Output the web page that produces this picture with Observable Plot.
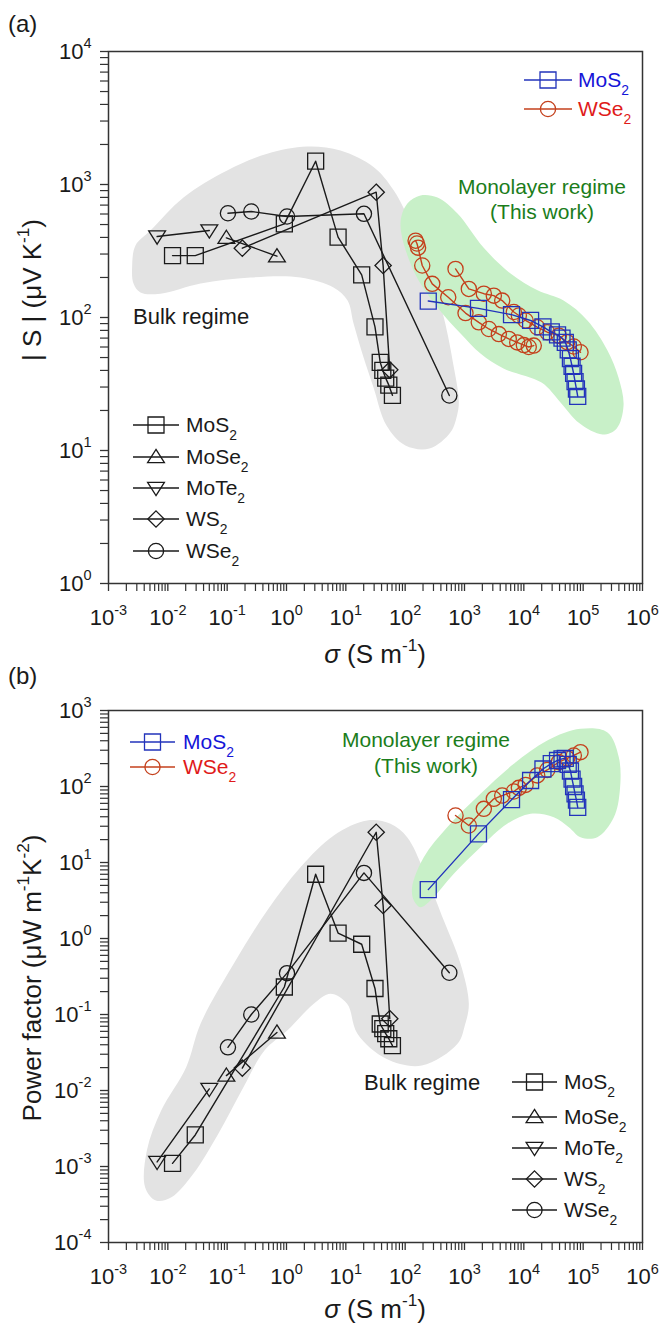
<!DOCTYPE html>
<html><head><meta charset="utf-8">
<script src="https://cdn.jsdelivr.net/npm/d3@7"></script>
<script src="https://cdn.jsdelivr.net/npm/@observablehq/plot@0.6"></script>
<style>
body{margin:0;background:#fff;}
#c svg{display:block;}
text{white-space:pre;}
</style></head><body><div id="c"></div>
<script>
const FONT = "'Liberation Sans', Arial, Helvetica, sans-serif";

// ---------------- data ----------------
const sigmaTicks = [1e-3,1e-2,1e-1,1e0,1e1,1e2,1e3,1e4,1e5,1e6];
const sTicks = [1,10,100,1000,10000];
const pfTicks = [1e-4,1e-3,1e-2,1e-1,1,10,100,1000];
const bulkNames = ["MoS2","MoSe2","MoTe2","WS2","WSe2"];
const monoNames = ["MoS2","WSe2"];

// bulk (literature)
const bulkMoS2_sigma = [0.012, 0.029, 0.92, 3.1, 7.4, 18.5, 31, 38, 42, 47, 53, 61];
const bulkMoS2_S     = [292, 292, 506, 1497, 402, 209, 85, 46, 40, 35, 31, 26];
const bulkMoS2_PF    = [0.0011, 0.0026, 0.23, 7.0, 1.18, 0.84, 0.22, 0.075, 0.065, 0.056, 0.048, 0.039];
const bulkMoSe2_sigma = [0.097, 0.69];
const bulkMoSe2_S     = [397, 289];
const bulkMoSe2_PF    = [0.0157, 0.058];
const bulkMoTe2_sigma = [0.0066, 0.05];
const bulkMoTe2_S     = [406, 451];
const bulkMoTe2_PF    = [0.00115, 0.0105];
const bulkWS2_sigma = [0.18, 32.5, 42.5, 55];
const bulkWS2_S     = [332, 875, 246, 40.4];
const bulkWS2_PF    = [0.0197, 25, 2.72, 0.088];
const bulkWSe2_sigma = [0.103, 0.255, 1.02, 20.2, 555];
const bulkWSe2_S     = [608, 627, 575, 602, 25.9];
const bulkWSe2_PF    = [0.037, 0.1, 0.35, 7.3, 0.354];

// monolayer (this work)
const monoMoS2_sigma = [245, 1720, 6200, 13000, 21000, 29000, 37000, 44000, 50000, 56000, 61000, 65000, 69000, 73000, 77000, 81000];
const monoMoS2_S     = [133, 117, 105, 95, 85, 78, 74, 70, 65, 57, 49, 43, 38, 33, 29, 25.5];
const monoMoS2_PF    = [4.4, 23.8, 67, 120, 170, 200, 220, 231, 235, 195, 160, 125, 100, 80, 66, 53];
const monoWSe2a_sigma = [150, 158, 165, 194, 286, 532, 1040, 1740, 2570, 3790, 5580, 7740, 10000, 12100, 14700];
const monoWSe2a_S     = [378, 360, 335, 246, 179, 142, 108, 92, 82, 75, 69, 65, 62, 60, 61.5];
const monoWSe2b_sigma = [706, 1183, 2118, 3120, 4320, 6780, 8240, 10700, 16800, 24800, 38900, 53800, 69600, 90200];
const monoWSe2b_S     = [232, 164, 151, 146, 134, 110, 103.5, 95, 84.5, 77.5, 73, 65.2, 60.5, 54.8];
const monoWSe2b_PF    = [41.5, 30.7, 50.8, 68.9, 76, 86, 96, 105, 140, 165, 209, 235, 256, 283];

// shaded regime outlines
const bulkRegionA_sigma = [0.0025, 0.00285, 0.0051, 0.0186, 0.1, 0.473, 2.23, 8.13, 29.6, 64.4, 140, 267, 448, 661, 802, 762, 581, 257, 101, 48.5, 29.3, 19.9, 13.5, 10.7, 6.2, 1.72, 0.247, 0.0356, 0.0075, 0.00346, 0.00264];
const bulkRegionA_S     = [239, 348, 451, 803, 1275, 1702, 1930, 1800, 1350, 901, 451, 213, 100, 42.3, 23.8, 19, 13.7, 10.35, 10.9, 15.4, 29.8, 50, 90, 134, 168, 200, 200, 180, 151, 154, 180];
const monoRegionA_sigma = [83.4, 109, 181, 351, 762, 2090, 5970, 17000, 46700, 118000, 257000, 394000, 479000, 365000, 212000, 86700, 41500, 19900, 4540, 1860, 857, 351, 138];
const monoRegionA_S     = [509, 720, 827, 798, 605, 336, 214, 160, 134, 95, 56.5, 35.4, 21.8, 14.6, 13.2, 16.0, 23, 32.4, 41.4, 53.6, 75.9, 119, 226];
const bulkRegionB_sigma = [0.00629, 0.00414, 0.00444, 0.00773, 0.0204, 0.0356, 0.129, 0.473, 1.72, 6.27, 22.9, 56.6, 108, 206, 448, 857, 1183, 1012, 762, 191, 47.9, 15.7, 10.5, 5.52, 2.88, 1.03, 0.425, 0.188, 0.0714, 0.0271, 0.0115];
const bulkRegionB_PF    = [3.57e-4, 5.35e-4, 1.63e-3, 5.46e-3, 0.0203, 0.0755, 0.464, 2.34, 8.67, 22.7, 35.7, 32.3, 21.5, 7.85, 1.72, 0.464, 0.138, 0.0716, 0.0411, 0.0213, 0.0261, 0.0557, 0.138, 0.187, 0.138, 0.0615, 0.0336, 0.011, 2.72e-3, 8.09e-4, 3.94e-4];
const monoRegionB_sigma = [140, 131, 206, 511, 1860, 6780, 24800, 90200, 254000, 399000, 415000, 329000, 173000, 90200, 57300, 32000, 13000, 5250, 1860, 661, 267, 181];
const monoRegionB_PF    = [3.16, 4.73, 11.7, 29.1, 80.2, 199, 403, 574, 518, 243, 88.6, 39.4, 21.5, 21.5, 29.1, 39.4, 43.7, 32.3, 15.9, 7.1, 3.16, 2.58];

// ---------------- helpers ----------------
const rows = (sig, val) => sig.map((s, i) => ({sigma: s, v: val[i]}));
const minorOf = (majors) => majors.slice(0, -1).flatMap(m => [2,3,4,5,6,7,8,9].map(k => k * m));

const rOf = size => Math.sqrt(size / Math.PI);
const symSquare = {draw(c, s){ const r = rOf(s); c.moveTo(-r,-r); c.lineTo(r,-r); c.lineTo(r,r); c.lineTo(-r,r); c.closePath(); }};
const symCircle = {draw(c, s){ const r = rOf(s) * 0.95; c.moveTo(r,0); c.arc(0,0,r,0,2*Math.PI); c.closePath(); }};
const symTriUp = {draw(c, s){ const r = rOf(s); c.moveTo(0,-r*0.95); c.lineTo(r*1.05,r*0.7); c.lineTo(-r*1.05,r*0.7); c.closePath(); }};
const symTriDown = {draw(c, s){ const r = rOf(s); c.moveTo(0,r*0.95); c.lineTo(r*1.05,-r*0.7); c.lineTo(-r*1.05,-r*0.7); c.closePath(); }};
const symDiamond = {draw(c, s){ const r = rOf(s) * 1.02; c.moveTo(0,-r); c.lineTo(r,0); c.lineTo(0,r); c.lineTo(-r,0); c.closePath(); }};
const bulkSym = {MoS2: symSquare, MoSe2: symTriUp, MoTe2: symTriDown, WS2: symDiamond, WSe2: symCircle};

const GRAY = "#e3e3e3", GREEN = "#c8f0c8", BLK = "#1a1a1a";
const BLUE = "#2233bb", RED = "#c4401c";
const BLUETXT = "#1515d8", REDTXT = "#e01a1a", GREENTXT = "#1b7d1b";

function seriesMarks(data, sym, color, r) {
  return [
    Plot.line(data, {x: "sigma", y: "v", stroke: color, strokeWidth: 1.4}),
    Plot.dot(data, {x: "sigma", y: "v", symbol: sym, r, stroke: color, fill: "none", strokeWidth: 1.3})
  ];
}
function axes(yTicks) {
  const fmt = d => "10^" + Math.round(Math.log10(d));
  return [
    Plot.axisX(minorOf(sigmaTicks), {anchor: "bottom", tickSize: 8, tickFormat: () => "", label: null, stroke: "#333", strokeWidth: 1.2}),
    Plot.axisX(sigmaTicks, {anchor: "bottom", tickSize: 8, tickPadding: 18, tickFormat: fmt, fontSize: 22, label: null, stroke: "#333", strokeWidth: 1.3}),
    Plot.axisY(minorOf(yTicks), {anchor: "left", tickSize: 8, tickFormat: () => "", label: null, stroke: "#333", strokeWidth: 1.2}),
    Plot.axisY(yTicks, {anchor: "left", tickSize: 8, tickPadding: 9, tickFormat: fmt, fontSize: 22, label: null, stroke: "#333", strokeWidth: 1.3}),
    Plot.frame({stroke: "#333", strokeWidth: 1.5})
  ];
}
function supify(svg) {
  d3.select(svg).selectAll("text").each(function () {
    const m = /^10\^(-?\d+)$/.exec(this.textContent);
    if (!m) return;
    const t = d3.select(this); t.text("");
    t.append("tspan").text("10");
    t.append("tspan").attr("dy", "-0.7em").attr("font-size", "14.5px").text(m[1]);
  });
}
function rich(g, x, y, parts, {size = 21, anchor = "start", fill = BLK, rotate = 0} = {}) {
  const t = g.append("text").attr("x", x).attr("y", y).attr("font-size", size)
    .attr("text-anchor", anchor).attr("fill", fill).attr("font-family", FONT);
  if (rotate) t.attr("transform", `rotate(${rotate},${x},${y})`);
  let shift = 0;
  for (const [s, k] of parts) {
    const sp = t.append("tspan").text(s);
    let target = 0;
    if (k === "sub") { sp.attr("font-size", size * 0.66); target = size * 0.36; }
    else if (k === "sup") { sp.attr("font-size", size * 0.66); target = -size * 0.45; }
    else if (k === "it") { sp.attr("font-style", "italic"); }
    sp.attr("dy", target - shift); shift = target;
  }
  return t;
}
function chemParts(name) {
  const m = /^(.*?)(\d)$/.exec(name);
  return m ? [[m[1], "n"], [m[2], "sub"]] : [[name, "n"]];
}
function legend(g, names, syms, colors, textColors, ys, x1, x2, tx, size) {
  names.forEach((n, i) => {
    const y = ys[i], cx = (x1 + x2) / 2;
    g.append("line").attr("x1", x1).attr("x2", x2).attr("y1", y).attr("y2", y).attr("stroke", colors[i]).attr("stroke-width", 1.4);
    g.append("path").attr("transform", `translate(${cx},${y})`).attr("d", d3.symbol().type(syms[i]).size(8 * 8 * Math.PI)())
      .attr("fill", "none").attr("stroke", colors[i]).attr("stroke-width", 1.3);
    rich(g, tx, y + 7, chemParts(n), {size, fill: textColors[i]});
  });
}

// ---------------- series tables ----------------
const bulkA = {
  MoS2: rows(bulkMoS2_sigma, bulkMoS2_S), MoSe2: rows(bulkMoSe2_sigma, bulkMoSe2_S),
  MoTe2: rows(bulkMoTe2_sigma, bulkMoTe2_S), WS2: rows(bulkWS2_sigma, bulkWS2_S),
  WSe2: rows(bulkWSe2_sigma, bulkWSe2_S)
};
const bulkB = {
  MoS2: rows(bulkMoS2_sigma, bulkMoS2_PF), MoSe2: rows(bulkMoSe2_sigma, bulkMoSe2_PF),
  MoTe2: rows(bulkMoTe2_sigma, bulkMoTe2_PF), WS2: rows(bulkWS2_sigma, bulkWS2_PF),
  WSe2: rows(bulkWSe2_sigma, bulkWSe2_PF)
};

const baseStyle = {fontFamily: FONT, background: "none", color: BLK, overflow: "visible"};

// ---------------- panel (a) ----------------
const chartA = Plot.plot({
  width: 660, height: 676, marginTop: 51, marginBottom: 93, marginLeft: 108, marginRight: 18,
  style: baseStyle,
  x: {type: "log", domain: [1e-3, 1e6]},
  y: {type: "log", domain: [1, 1e4]},
  marks: [
    Plot.line(rows(bulkRegionA_sigma, bulkRegionA_S), {x: "sigma", y: "v", curve: "catmull-rom-closed", fill: GRAY, stroke: "none"}),
    Plot.line(rows(monoRegionA_sigma, monoRegionA_S), {x: "sigma", y: "v", curve: "catmull-rom-closed", fill: GREEN, stroke: "none"}),
    ...bulkNames.flatMap(n => seriesMarks(bulkA[n], bulkSym[n], BLK, 8)),
    ...seriesMarks(rows(monoWSe2a_sigma, monoWSe2a_S), symCircle, RED, 8),
    ...seriesMarks(rows(monoWSe2b_sigma, monoWSe2b_S), symCircle, RED, 8),
    ...seriesMarks(rows(monoMoS2_sigma, monoMoS2_S), symSquare, BLUE, 8),
    ...axes(sTicks)
  ]
});

// ---------------- panel (b) ----------------
const chartB = Plot.plot({
  width: 660, height: 648, marginTop: 34, marginBottom: 82, marginLeft: 108, marginRight: 18,
  style: baseStyle,
  x: {type: "log", domain: [1e-3, 1e6]},
  y: {type: "log", domain: [1e-4, 1e3]},
  marks: [
    Plot.line(rows(bulkRegionB_sigma, bulkRegionB_PF), {x: "sigma", y: "v", curve: "catmull-rom-closed", fill: GRAY, stroke: "none"}),
    Plot.line(rows(monoRegionB_sigma, monoRegionB_PF), {x: "sigma", y: "v", curve: "catmull-rom-closed", fill: GREEN, stroke: "none"}),
    ...bulkNames.flatMap(n => seriesMarks(bulkB[n], bulkSym[n], BLK, 8)),
    ...seriesMarks(rows(monoWSe2b_sigma, monoWSe2b_PF), symCircle, RED, 8),
    ...seriesMarks(rows(monoMoS2_sigma, monoMoS2_PF), symSquare, BLUE, 8),
    ...axes(pfTicks)
  ]
});

const host = document.getElementById("c");
host.append(chartA, chartB);
supify(chartA); supify(chartB);

// annotations panel (a)
{
  const g = d3.select(chartA).append("g");
  rich(g, 8, 32, [["(a)", "n"]], {size: 24});
  rich(g, 41, 290, [["| S | (μV K", "n"], ["-1", "sup"], [")", "n"]], {size: 26, anchor: "middle", rotate: -90});
  rich(g, 375, 663, [["σ", "it"], [" (S m", "n"], ["-1", "sup"], [")", "n"]], {size: 26, anchor: "middle"});
  rich(g, 133, 324, [["Bulk regime", "n"]], {size: 22});
  rich(g, 542, 194, [["Monolayer regime", "n"]], {size: 21, anchor: "middle", fill: GREENTXT});
  rich(g, 542, 219, [["(This work)", "n"]], {size: 21, anchor: "middle", fill: GREENTXT});
  legend(g, monoNames, [symSquare, symCircle], [BLUE, RED], [BLUETXT, REDTXT], [80, 109], 524, 572, 578, 21);
  legend(g, bulkNames, bulkNames.map(n => bulkSym[n]), bulkNames.map(() => BLK), bulkNames.map(() => BLK), [425, 457, 488, 519, 551], 133, 179, 186, 21);
}
// annotations panel (b)
{
  const g = d3.select(chartB).append("g");
  rich(g, 8, 8, [["(b)", "n"]], {size: 24});
  rich(g, 41, 302, [["Power factor (μW m", "n"], ["-1", "sup"], ["K", "n"], ["-2", "sup"], [")", "n"]], {size: 26, anchor: "middle", rotate: -90});
  rich(g, 375, 642, [["σ", "it"], [" (S m", "n"], ["-1", "sup"], [")", "n"]], {size: 26, anchor: "middle"});
  rich(g, 364, 414, [["Bulk regime", "n"]], {size: 22});
  rich(g, 426, 71, [["Monolayer regime", "n"]], {size: 21, anchor: "middle", fill: GREENTXT});
  rich(g, 426, 97, [["(This work)", "n"]], {size: 21, anchor: "middle", fill: GREENTXT});
  legend(g, monoNames, [symSquare, symCircle], [BLUE, RED], [BLUETXT, REDTXT], [66, 91], 130, 175, 183, 21);
  legend(g, bulkNames, bulkNames.map(n => bulkSym[n]), bulkNames.map(() => BLK), bulkNames.map(() => BLK), [406, 441, 472, 503, 534], 512, 557, 564, 21);
}
</script></body></html>
